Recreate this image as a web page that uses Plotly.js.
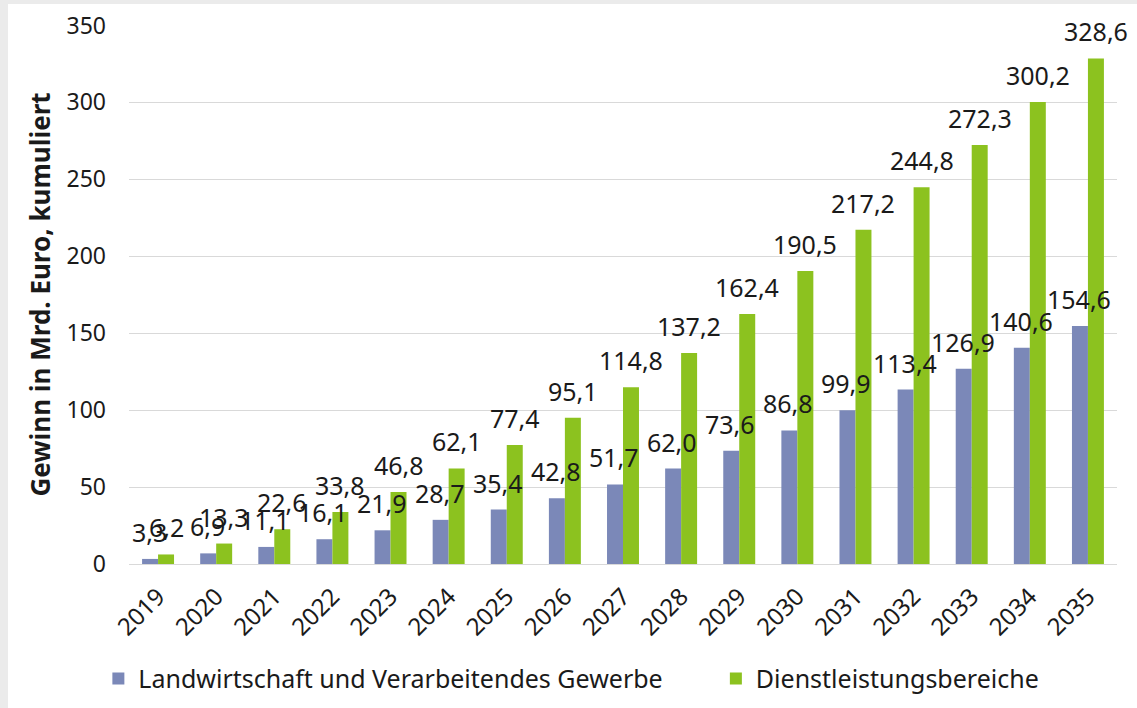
<!DOCTYPE html>
<html>
<head>
<meta charset="utf-8">
<script src="https://cdn.plot.ly/plotly-3.0.1.min.js"></script>
<style>
html, body { margin: 0; padding: 0; background: #ebebeb; width: 1137px; height: 708px; overflow: hidden; }
#chart { position: absolute; left: 8px; top: 4px; width: 1129px; height: 704px; background: #fff; }
</style>
</head>
<body>
<div id="chart"></div>
<script>
const years = ['2019','2020','2021','2022','2023','2024','2025','2026','2027','2028','2029','2030','2031','2032','2033','2034','2035'];
const landwirtschaft = [3.3, 6.9, 11.1, 16.1, 21.9, 28.7, 35.4, 42.8, 51.7, 62.0, 73.6, 86.8, 99.9, 113.4, 126.9, 140.6, 154.6];
const dienstleistung = [6.2, 13.3, 22.6, 33.8, 46.8, 62.1, 77.4, 95.1, 114.8, 137.2, 162.4, 190.5, 217.2, 244.8, 272.3, 300.2, 328.6];
const seriesNames = ['Landwirtschaft und Verarbeitendes Gewerbe', 'Dienstleistungsbereiche'];
const colors = ['#7b88b8', '#8cc21f'];

const FONT = 'Noto Sans, Open Sans, sans-serif';
const fmt = v => v.toFixed(1).replace('.', ',');

const traces = [
  { type: 'bar', x: years, y: landwirtschaft, name: seriesNames[0], marker: { color: colors[0] }, hoverinfo: 'none', legend: 'legend' },
  { type: 'bar', x: years, y: dienstleistung, name: seriesNames[1], marker: { color: colors[1] }, hoverinfo: 'none', legend: 'legend2' }
];

const annotations = [];
[landwirtschaft, dienstleistung].forEach((arr, si) => {
  arr.forEach((v, i) => {
    annotations.push({
      x: i, y: v, xref: 'x', yref: 'y',
      text: fmt(v), showarrow: false,
      xanchor: 'center', yanchor: 'bottom',
      xshift: si === 0 ? -9 : 8, yshift: 8,
      font: { family: FONT, size: 25, color: '#1a1a1a' }
    });
  });
});

const legendFont = { family: FONT, size: 25, color: '#1a1a1a' };
const layout = {
  width: 1129, height: 704,
  paper_bgcolor: '#ffffff', plot_bgcolor: '#ffffff',
  margin: { l: 121, r: 20, t: 21, b: 144, autoexpand: false },
  barmode: 'group', bargap: 0.45, bargroupgap: 0,
  separators: ',.',
  font: { family: FONT, size: 24, color: '#1a1a1a' },
  showlegend: true,
  legend: {
    orientation: 'h', x: -0.031, xanchor: 'left', y: -0.213, yanchor: 'middle',
    font: legendFont, bgcolor: 'rgba(0,0,0,0)'
  },
  legend2: {
    orientation: 'h', x: 0.594, xanchor: 'left', y: -0.213, yanchor: 'middle',
    font: legendFont, bgcolor: 'rgba(0,0,0,0)'
  },
  xaxis: {
    type: 'category', tickangle: -45, showgrid: false, automargin: false,
    showline: true, linecolor: '#d9d9d9', linewidth: 1, ticks: '', ticklabelstandoff: 8,
    range: [-0.5, 16.5],
    tickfont: { family: FONT, size: 24, color: '#1a1a1a' }
  },
  yaxis: {
    range: [0, 350.3], tickvals: [0, 50, 100, 150, 200, 250, 300, 350], showgrid: true, gridcolor: '#d9d9d9', gridwidth: 1,
    zeroline: false, showline: false, ticks: '', automargin: false, ticklabelstandoff: 22,
    tickfont: { family: FONT, size: 23, color: '#1a1a1a' },
    title: { text: '<b>Gewinn in Mrd. Euro, kumuliert</b>', font: { family: FONT, size: 26, color: '#1a1a1a' }, standoff: 8 }
  },
  annotations: annotations
};

Plotly.newPlot('chart', traces, layout, { displayModeBar: false, staticPlot: true });
</script>
</body>
</html>
